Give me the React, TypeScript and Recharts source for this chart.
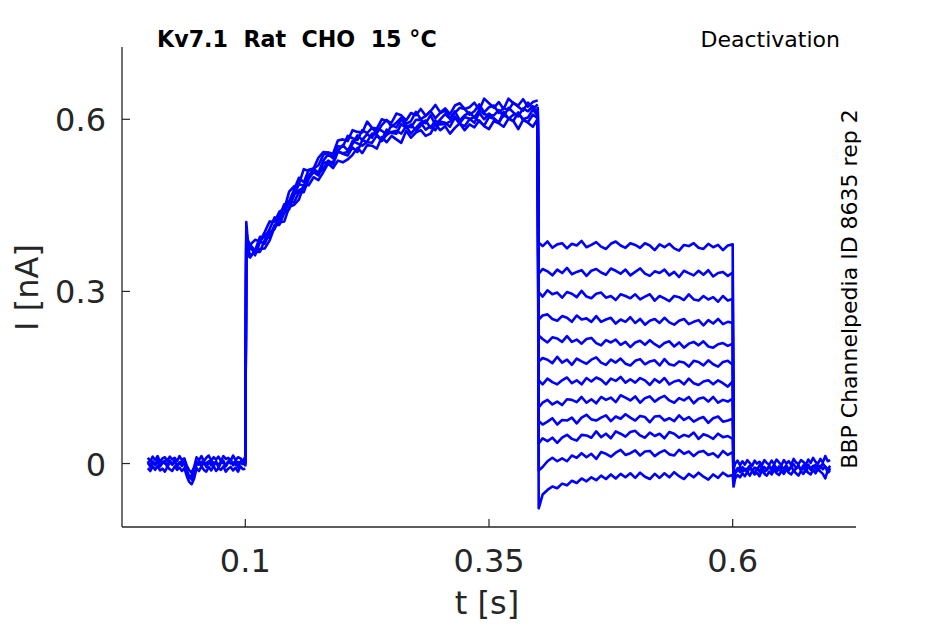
import React from 'react';
import { LineChart, Line, XAxis, YAxis } from 'recharts';

// sample times (s) for each protocol segment
const baseTimes = [0, 0.0025, 0.005, 0.0075, 0.01, 0.0125, 0.015, 0.0175, 0.02, 0.0225, 0.025, 0.0275, 0.03, 0.0325, 0.035, 0.0375, 0.04, 0.0425, 0.045, 0.0475, 0.05, 0.0525, 0.055, 0.0575, 0.06, 0.0625, 0.065, 0.0675, 0.07, 0.0725, 0.075, 0.0775, 0.08, 0.0825, 0.085, 0.0875, 0.09, 0.0925, 0.095, 0.0975, 0.1];
const actTimes = [0.1, 0.101, 0.1025, 0.105, 0.11, 0.115, 0.12, 0.125, 0.13, 0.135, 0.14, 0.145, 0.15, 0.155, 0.16, 0.165, 0.17, 0.175, 0.18, 0.185, 0.19, 0.195, 0.2, 0.205, 0.21, 0.215, 0.22, 0.225, 0.23, 0.235, 0.24, 0.245, 0.25, 0.255, 0.26, 0.265, 0.27, 0.275, 0.28, 0.285, 0.29, 0.295, 0.3, 0.305, 0.31, 0.315, 0.32, 0.325, 0.33, 0.335, 0.34, 0.345, 0.35, 0.355, 0.36, 0.365, 0.37, 0.375, 0.38, 0.385, 0.39, 0.395, 0.4];
const deactTimes = [0.4, 0.401, 0.405, 0.41, 0.415, 0.42, 0.425, 0.43, 0.435, 0.44, 0.445, 0.45, 0.455, 0.46, 0.465, 0.47, 0.475, 0.48, 0.485, 0.49, 0.495, 0.5, 0.505, 0.51, 0.515, 0.52, 0.525, 0.53, 0.535, 0.54, 0.545, 0.55, 0.555, 0.56, 0.565, 0.57, 0.575, 0.58, 0.585, 0.59, 0.595, 0.6, 0.601];
const tailTimes = [0.601, 0.6025, 0.605, 0.6075, 0.61, 0.6125, 0.615, 0.6175, 0.62, 0.6225, 0.625, 0.6275, 0.63, 0.6325, 0.635, 0.6375, 0.64, 0.6425, 0.645, 0.6475, 0.65, 0.6525, 0.655, 0.6575, 0.66, 0.6625, 0.665, 0.6675, 0.67, 0.6725, 0.675, 0.6775, 0.68, 0.6825, 0.685, 0.6875, 0.69, 0.6925, 0.695, 0.6975, 0.7];

// baseline current (nA) before the step
const baseA = [0.010, 0.004, 0.012, 0.006, 0.013, 0.003, 0.009, 0.011, 0.005, 0.012, 0.007, 0.010, 0.004, 0.013, 0.006, 0.009, -0.004, -0.012, -0.016, -0.006, 0.011, 0.006, 0.013, 0.004, 0.010, 0.014, 0.005, 0.011, 0.007, 0.012, 0.004, 0.013, 0.008, 0.010, 0.005, 0.014, 0.006, 0.011, 0.009, 0.004, 0.012];
const baseB = [-0.008, -0.013, -0.005, -0.011, -0.004, -0.012, -0.009, -0.014, -0.006, -0.010, -0.013, -0.005, -0.011, -0.007, -0.013, -0.008, -0.022, -0.032, -0.036, -0.026, -0.008, -0.013, -0.005, -0.011, -0.014, -0.006, -0.012, -0.004, -0.013, -0.008, -0.011, -0.005, -0.014, -0.009, -0.006, -0.012, -0.007, -0.014, -0.005, -0.010, -0.009];
const baseC = [0.001, -0.003, 0.004, -0.001, 0.002, -0.004, 0.003, 0.000, -0.002, 0.005, -0.001, 0.002, -0.003, 0.001, 0.004, -0.002, -0.012, -0.022, -0.028, -0.015, 0.002, -0.002, 0.003, -0.001, 0.001, 0.004, -0.003, 0.002, 0.000, -0.002, 0.003, 0.001, -0.003, 0.004, 0.000, 0.002, -0.002, 0.003, 0.001, -0.001, 0.002];
const baseD = [0.004, -0.006, 0.002, -0.003, 0.007, -0.005, 0.001, 0.005, -0.007, 0.003, -0.002, 0.006, -0.006, 0.002, -0.004, 0.005, -0.016, -0.025, -0.020, -0.010, -0.003, 0.005, -0.005, 0.003, -0.006, 0.002, 0.006, -0.004, 0.004, -0.007, 0.001, 0.005, -0.005, 0.002, 0.007, -0.003, 0.004, -0.006, 0.003, 0.006, -0.002];

// activation at the depolarising step
const act1 = [0.006, 0.421, 0.390, 0.381, 0.390, 0.387, 0.404, 0.422, 0.421, 0.439, 0.444, 0.474, 0.483, 0.487, 0.513, 0.510, 0.514, 0.533, 0.543, 0.542, 0.540, 0.563, 0.565, 0.562, 0.581, 0.578, 0.577, 0.596, 0.585, 0.584, 0.600, 0.597, 0.594, 0.610, 0.607, 0.598, 0.611, 0.607, 0.618, 0.606, 0.614, 0.625, 0.612, 0.619, 0.609, 0.624, 0.628, 0.618, 0.621, 0.629, 0.616, 0.636, 0.628, 0.620, 0.630, 0.618, 0.636, 0.628, 0.624, 0.635, 0.622, 0.630, 0.633];
const act2 = [0.000, 0.405, 0.385, 0.381, 0.371, 0.395, 0.394, 0.409, 0.429, 0.425, 0.451, 0.457, 0.477, 0.498, 0.490, 0.512, 0.514, 0.520, 0.538, 0.542, 0.534, 0.553, 0.552, 0.571, 0.567, 0.564, 0.581, 0.576, 0.585, 0.576, 0.590, 0.599, 0.587, 0.594, 0.603, 0.592, 0.597, 0.613, 0.600, 0.606, 0.614, 0.602, 0.611, 0.615, 0.602, 0.611, 0.620, 0.618, 0.608, 0.614, 0.626, 0.612, 0.621, 0.624, 0.611, 0.620, 0.616, 0.629, 0.622, 0.615, 0.629, 0.618, 0.626];
const act3 = [-0.002, 0.398, 0.373, 0.380, 0.363, 0.386, 0.400, 0.400, 0.409, 0.430, 0.452, 0.452, 0.467, 0.487, 0.484, 0.500, 0.514, 0.507, 0.528, 0.539, 0.532, 0.545, 0.555, 0.546, 0.557, 0.572, 0.564, 0.574, 0.568, 0.584, 0.580, 0.574, 0.590, 0.586, 0.600, 0.588, 0.586, 0.599, 0.599, 0.593, 0.607, 0.590, 0.600, 0.609, 0.601, 0.614, 0.598, 0.607, 0.612, 0.603, 0.616, 0.609, 0.607, 0.607, 0.616, 0.605, 0.620, 0.612, 0.605, 0.619, 0.614, 0.623, 0.609];
const act4 = [0.003, 0.392, 0.377, 0.362, 0.369, 0.387, 0.383, 0.403, 0.409, 0.434, 0.437, 0.443, 0.469, 0.476, 0.481, 0.503, 0.508, 0.502, 0.524, 0.526, 0.525, 0.544, 0.541, 0.543, 0.562, 0.558, 0.554, 0.561, 0.575, 0.573, 0.564, 0.582, 0.576, 0.575, 0.592, 0.585, 0.591, 0.580, 0.589, 0.598, 0.585, 0.598, 0.591, 0.592, 0.596, 0.605, 0.593, 0.604, 0.601, 0.594, 0.611, 0.600, 0.610, 0.602, 0.594, 0.613, 0.601, 0.608, 0.610, 0.600, 0.603, 0.617, 0.606];
const act5 = [-0.005, 0.388, 0.364, 0.377, 0.369, 0.369, 0.390, 0.395, 0.416, 0.416, 0.437, 0.457, 0.455, 0.473, 0.473, 0.496, 0.508, 0.505, 0.514, 0.528, 0.521, 0.544, 0.540, 0.537, 0.551, 0.543, 0.564, 0.560, 0.559, 0.572, 0.562, 0.573, 0.578, 0.580, 0.575, 0.588, 0.575, 0.585, 0.594, 0.582, 0.588, 0.581, 0.596, 0.594, 0.587, 0.603, 0.592, 0.588, 0.600, 0.604, 0.596, 0.589, 0.604, 0.601, 0.594, 0.608, 0.602, 0.597, 0.612, 0.599, 0.595, 0.608, 0.602];
const act6 = [0.002, 0.380, 0.363, 0.359, 0.371, 0.374, 0.375, 0.389, 0.412, 0.420, 0.422, 0.447, 0.451, 0.460, 0.485, 0.485, 0.499, 0.494, 0.508, 0.523, 0.515, 0.528, 0.525, 0.530, 0.538, 0.550, 0.541, 0.555, 0.554, 0.549, 0.569, 0.560, 0.571, 0.565, 0.559, 0.580, 0.568, 0.577, 0.581, 0.571, 0.575, 0.591, 0.581, 0.588, 0.575, 0.585, 0.593, 0.581, 0.591, 0.586, 0.598, 0.588, 0.583, 0.597, 0.593, 0.587, 0.601, 0.597, 0.583, 0.599, 0.594, 0.587, 0.601];

// deactivation: one sweep per test potential
const deact1 = [0.612, 0.385, 0.379, 0.387, 0.376, 0.382, 0.384, 0.375, 0.383, 0.380, 0.388, 0.377, 0.381, 0.386, 0.378, 0.374, 0.383, 0.387, 0.380, 0.376, 0.384, 0.381, 0.376, 0.384, 0.380, 0.372, 0.382, 0.377, 0.383, 0.375, 0.371, 0.381, 0.379, 0.384, 0.376, 0.374, 0.383, 0.377, 0.381, 0.372, 0.380, 0.382, -0.004];
const deact2 = [0.605, 0.331, 0.339, 0.335, 0.328, 0.338, 0.332, 0.341, 0.330, 0.334, 0.337, 0.327, 0.336, 0.339, 0.333, 0.329, 0.340, 0.336, 0.331, 0.338, 0.328, 0.334, 0.340, 0.331, 0.327, 0.335, 0.332, 0.338, 0.328, 0.334, 0.325, 0.336, 0.332, 0.328, 0.336, 0.329, 0.337, 0.326, 0.332, 0.334, 0.327, 0.333, -0.010];
const deact3 = [0.618, 0.299, 0.291, 0.302, 0.295, 0.298, 0.289, 0.299, 0.296, 0.290, 0.301, 0.291, 0.288, 0.296, 0.298, 0.289, 0.292, 0.285, 0.295, 0.292, 0.288, 0.295, 0.286, 0.291, 0.295, 0.284, 0.292, 0.288, 0.283, 0.292, 0.290, 0.285, 0.295, 0.286, 0.284, 0.292, 0.286, 0.290, 0.282, 0.292, 0.284, 0.287, -0.006];
const deact4 = [0.598, 0.251, 0.258, 0.260, 0.252, 0.249, 0.257, 0.254, 0.247, 0.258, 0.251, 0.253, 0.247, 0.257, 0.247, 0.251, 0.254, 0.244, 0.251, 0.247, 0.255, 0.245, 0.252, 0.242, 0.249, 0.252, 0.245, 0.254, 0.246, 0.242, 0.249, 0.252, 0.243, 0.247, 0.250, 0.241, 0.250, 0.244, 0.252, 0.243, 0.247, 0.245, -0.015];
const deact5 = [0.610, 0.223, 0.217, 0.211, 0.220, 0.218, 0.212, 0.222, 0.212, 0.216, 0.209, 0.217, 0.219, 0.210, 0.206, 0.215, 0.211, 0.216, 0.207, 0.212, 0.203, 0.211, 0.214, 0.207, 0.215, 0.208, 0.203, 0.210, 0.213, 0.204, 0.211, 0.202, 0.209, 0.212, 0.206, 0.213, 0.204, 0.202, 0.208, 0.210, 0.205, 0.209, -0.008];
const deact6 = [0.622, 0.178, 0.184, 0.181, 0.175, 0.186, 0.176, 0.181, 0.172, 0.183, 0.178, 0.174, 0.181, 0.185, 0.176, 0.172, 0.181, 0.176, 0.183, 0.174, 0.171, 0.179, 0.182, 0.173, 0.178, 0.180, 0.171, 0.182, 0.173, 0.171, 0.178, 0.176, 0.169, 0.179, 0.177, 0.171, 0.180, 0.173, 0.169, 0.177, 0.179, 0.172, -0.012];
const deact7 = [0.602, 0.145, 0.138, 0.148, 0.142, 0.138, 0.145, 0.150, 0.140, 0.145, 0.138, 0.149, 0.143, 0.150, 0.146, 0.138, 0.148, 0.144, 0.151, 0.141, 0.147, 0.141, 0.149, 0.145, 0.137, 0.147, 0.141, 0.149, 0.138, 0.143, 0.145, 0.138, 0.148, 0.140, 0.137, 0.143, 0.145, 0.138, 0.145, 0.140, 0.134, 0.143, -0.018];
const deact8 = [0.615, 0.098, 0.106, 0.111, 0.103, 0.108, 0.102, 0.112, 0.111, 0.107, 0.116, 0.106, 0.112, 0.105, 0.116, 0.111, 0.115, 0.107, 0.119, 0.115, 0.110, 0.117, 0.106, 0.114, 0.117, 0.108, 0.114, 0.118, 0.110, 0.106, 0.114, 0.110, 0.116, 0.105, 0.113, 0.115, 0.108, 0.116, 0.106, 0.111, 0.108, 0.113, -0.005];
const deact9 = [0.595, 0.074, 0.068, 0.073, 0.079, 0.068, 0.076, 0.075, 0.080, 0.070, 0.080, 0.085, 0.077, 0.075, 0.080, 0.084, 0.074, 0.082, 0.078, 0.086, 0.080, 0.075, 0.083, 0.081, 0.072, 0.082, 0.083, 0.075, 0.079, 0.074, 0.084, 0.076, 0.081, 0.073, 0.078, 0.081, 0.071, 0.079, 0.082, 0.073, 0.075, 0.078, -0.020];
const deact10 = [0.608, 0.035, 0.044, 0.039, 0.045, 0.036, 0.045, 0.050, 0.043, 0.040, 0.050, 0.049, 0.045, 0.056, 0.046, 0.052, 0.044, 0.056, 0.052, 0.047, 0.055, 0.057, 0.049, 0.045, 0.054, 0.048, 0.052, 0.044, 0.055, 0.052, 0.045, 0.050, 0.047, 0.054, 0.043, 0.051, 0.048, 0.043, 0.052, 0.046, 0.048, 0.043, -0.025];
const deact11 = [0.620, -0.012, -0.006, 0.004, 0.010, 0.004, 0.009, 0.004, 0.014, 0.010, 0.018, 0.011, 0.017, 0.008, 0.020, 0.017, 0.012, 0.019, 0.024, 0.015, 0.018, 0.023, 0.014, 0.021, 0.022, 0.013, 0.019, 0.023, 0.016, 0.014, 0.024, 0.017, 0.021, 0.013, 0.020, 0.022, 0.015, 0.018, 0.011, 0.022, 0.015, 0.020, -0.030];
const deact12 = [0.600, -0.078, -0.054, -0.046, -0.040, -0.043, -0.035, -0.038, -0.030, -0.034, -0.026, -0.031, -0.024, -0.029, -0.021, -0.027, -0.019, -0.026, -0.018, -0.024, -0.017, -0.025, -0.016, -0.023, -0.027, -0.018, -0.025, -0.017, -0.024, -0.015, -0.022, -0.027, -0.018, -0.024, -0.016, -0.023, -0.028, -0.019, -0.025, -0.016, -0.022, -0.020, -0.042];

// return to holding potential
const tailA = [-0.010, 0.000, 0.005, -0.003, 0.004, -0.002, 0.006, 0.001, -0.004, 0.005, 0.000, 0.003, -0.003, 0.006, 0.001, -0.002, 0.005, -0.001, 0.007, 0.002, -0.003, 0.006, 0.000, 0.004, -0.002, 0.008, 0.002, -0.001, 0.006, 0.003, -0.002, 0.007, 0.001, 0.010, 0.003, 0.000, 0.008, 0.002, 0.013, 0.004, 0.006];
const tailB = [-0.040, -0.026, -0.020, -0.024, -0.017, -0.022, -0.015, -0.021, -0.013, -0.019, -0.016, -0.022, -0.012, -0.018, -0.021, -0.014, -0.019, -0.011, -0.017, -0.020, -0.013, -0.018, -0.010, -0.016, -0.019, -0.012, -0.017, -0.021, -0.013, -0.018, -0.010, -0.016, -0.019, -0.011, -0.017, -0.009, -0.014, -0.018, -0.026, -0.012, -0.015];
const tailC = [-0.022, -0.014, -0.008, -0.015, -0.006, -0.012, -0.009, -0.004, -0.013, -0.007, -0.011, -0.003, -0.010, -0.006, -0.012, -0.005, -0.009, -0.002, -0.008, -0.012, -0.005, -0.009, -0.003, -0.011, -0.006, -0.001, -0.008, -0.005, -0.011, -0.003, -0.007, -0.002, -0.009, -0.004, -0.010, -0.003, -0.007, 0.000, -0.006, -0.010, -0.004];
const tailD = [-0.030, -0.018, -0.011, -0.006, -0.014, -0.009, -0.016, -0.007, -0.012, -0.017, -0.008, -0.014, -0.006, -0.015, -0.010, -0.004, -0.013, -0.008, -0.014, -0.005, -0.011, -0.015, -0.007, -0.012, -0.004, -0.013, -0.009, -0.003, -0.012, -0.007, -0.014, -0.005, -0.011, -0.006, -0.002, -0.012, -0.004, -0.010, -0.005, -0.016, -0.008];

const xTicks = [0.1, 0.35, 0.6];
const yTicks = [0, 0.3, 0.6];

const baseTraces = [baseA, baseB, baseC, baseD];
const actTraces = [act1, act2, act3, act4, act5, act6];
const deactTraces = [deact1, deact2, deact3, deact4, deact5, deact6, deact7, deact8, deact9, deact10, deact11, deact12];
const tailTraces = [tailA, tailB, tailC, tailD];

// one row per sample time, one column per sweep
const toRows = (times: number[], traces: number[][]) =>
  times.map((t, i) => {
    const row: any = { t };
    traces.forEach((tr, k) => {
      row['s' + k] = tr[i];
    });
    return row;
  });

const baseRows = toRows(baseTimes, baseTraces);
const actRows = toRows(actTimes, actTraces);
const deactRows = toRows(deactTimes, deactTraces);
const tailRows = toRows(tailTimes, tailTraces);

const FONT = '"DejaVu Sans", sans-serif';
const AXIS = '#262626';
const BLUE = '#0000ff';

const XTick = (props: any) => {
  const { x, y, payload } = props;
  return (
    <g>
      <line x1={x} x2={x} y1={y} y2={y - 8} stroke={AXIS} strokeWidth={1.2} />
      <text x={x} y={y + 45} textAnchor="middle" fontFamily={FONT} fontSize={32} fill={AXIS}>
        {String(payload.value)}
      </text>
    </g>
  );
};

const YTick = (props: any) => {
  const { x, y, payload } = props;
  return (
    <g>
      <line x1={x} x2={x + 8} y1={y} y2={y} stroke={AXIS} strokeWidth={1.2} />
      <text x={x - 16} y={y + 12} textAnchor="end" fontFamily={FONT} fontSize={32} fill={AXIS}>
        {String(payload.value)}
      </text>
    </g>
  );
};

const sweep = (key: string, rows: any[], dataKey: string) => (
  <Line
    key={key}
    data={rows}
    dataKey={dataKey}
    type="linear"
    stroke={BLUE}
    strokeWidth={2.6}
    strokeLinejoin="round"
    dot={false}
    activeDot={false}
    isAnimationActive={false}
  />
);

export default function App() {
  return (
    <div style={{ position: 'absolute', left: 0, top: 0, width: 945, height: 624, background: '#fff' }}>
      <LineChart width={945} height={624} margin={{ top: 47, right: 89, bottom: 57, left: 62 }}>
        <XAxis
          dataKey="t"
          type="number"
          domain={[-0.0265, 0.7265]}
          ticks={xTicks}
          allowDataOverflow
          height={40}
          tickSize={0}
          tickMargin={0}
          tickLine={false}
          tick={<XTick />}
          axisLine={{ stroke: AXIS, strokeWidth: 1.3 }}
        />
        <YAxis
          type="number"
          domain={[-0.1106, 0.726]}
          ticks={yTicks}
          allowDataOverflow
          width={60}
          tickSize={0}
          tickMargin={0}
          tickLine={false}
          tick={<YTick />}
          axisLine={{ stroke: AXIS, strokeWidth: 1.3 }}
        />
        {baseTraces.map((_, k) => sweep('base-' + k, baseRows, 's' + k))}
        {actTraces.map((_, k) => sweep('act-' + k, actRows, 's' + k))}
        {deactTraces.map((_, k) => sweep('deact-' + k, deactRows, 's' + k))}
        {tailTraces.map((_, k) => sweep('tail-' + k, tailRows, 's' + k))}
      </LineChart>
      <svg
        width={945}
        height={624}
        style={{ position: 'absolute', left: 0, top: 0, pointerEvents: 'none' }}
      >
        <text x={157} y={47} fontFamily={FONT} fontSize={22.2} fontWeight="bold" fill="#000" style={{ whiteSpace: 'pre' }}>
          {'Kv7.1  Rat  CHO  15 °C'}
        </text>
        <text x={840} y={46.5} textAnchor="end" fontFamily={FONT} fontSize={22} fill="#000">
          Deactivation
        </text>
        <text
          x={857}
          y={289}
          textAnchor="middle"
          fontFamily={FONT}
          fontSize={22}
          fill="#000"
          transform="rotate(-90 857 289)"
        >
          BBP Channelpedia ID 8635 rep 2
        </text>
        <text x={487} y={614} textAnchor="middle" fontFamily={FONT} fontSize={32} fill={AXIS}>
          t [s]
        </text>
        <text
          x={38}
          y={287.5}
          textAnchor="middle"
          fontFamily={FONT}
          fontSize={32}
          fill={AXIS}
          transform="rotate(-90 38 287.5)"
        >
          I [nA]
        </text>
      </svg>
    </div>
  );
}
